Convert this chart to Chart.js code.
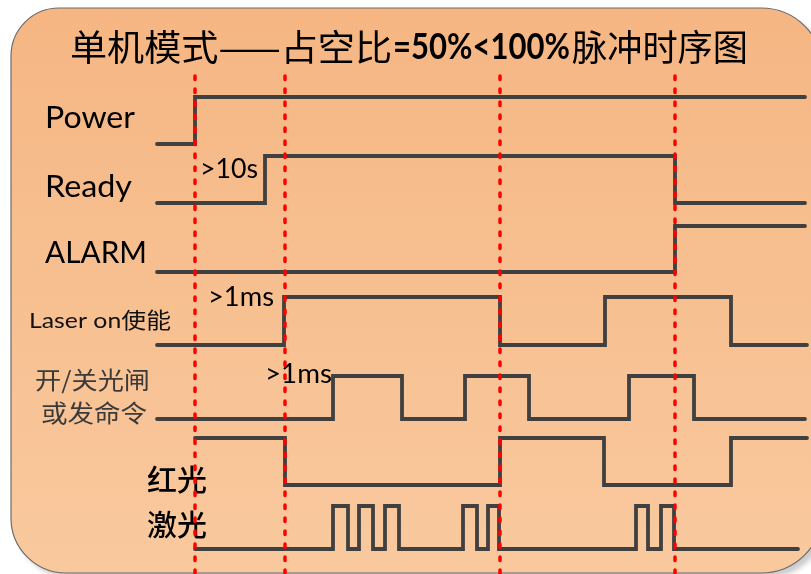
<!DOCTYPE html>
<html>
<head>
<meta charset="utf-8">
<script src="https://cdn.jsdelivr.net/npm/chart.js@4"></script>
<style>
  html, body { margin: 0; padding: 0; background: #fff; }
  canvas { display: block; }
</style>
</head>
<body>
<canvas id="timing" width="811" height="574"></canvas>
<script>
// reference instants (red dashed lines)
const markerTimes = [195, 285, 500, 675];

// signal edges: time at which the level starts, and the level (0 low / 1 high)
const powerTimes    = [157, 195, 805];
const powerLevels   = [0, 1, 1];
const readyTimes    = [157, 265, 675, 805];
const readyLevels   = [0, 1, 0, 0];
const alarmTimes    = [157, 675, 805];
const alarmLevels   = [0, 1, 1];
const laserOnTimes  = [157, 284, 500, 605, 731, 807];
const laserOnLevels = [0, 1, 0, 1, 0, 0];
const shutterTimes  = [157, 333, 402, 465, 529, 629, 694, 805];
const shutterLevels = [0, 1, 0, 1, 0, 1, 0, 0];
const redTimes      = [195, 285, 500, 604, 731, 807];
const redLevels     = [1, 0, 1, 0, 1, 1];
const laserTimes    = [195, 333, 348, 359, 373, 385, 399, 463, 477, 488, 499, 636, 648, 661, 674, 798];
const laserLevels   = [0, 1, 0, 1, 0, 1, 0, 1, 0, 1, 0, 1, 0, 1, 0, 0];

// lane layout (y of the low and high level on the y scale)
const LANES = {
  power:   { low: 144, high: 97 },
  ready:   { low: 203, high: 156 },
  alarm:   { low: 272, high: 226 },
  laserOn: { low: 345, high: 297 },
  shutter: { low: 419, high: 376 },
  red:     { low: 485, high: 438 },
  laser:   { low: 549, high: 506 },
};

const LINE_COLOR = "#404040";
const DASH_COLOR = "#ff0000";
const DASH_TOP   = 76;

function signal(times, levels, lane) {
  return {
    data: times.map((t, i) => ({ x: t, y: lane.low - levels[i] * (lane.low - lane.high) })),
    stepped: "before",
    borderColor: LINE_COLOR,
    borderWidth: 3.8,
    borderCapStyle: "round",
    borderJoinStyle: "miter",
    pointRadius: 0,
    fill: false,
  };
}

function marker(t) {
  return {
    data: [{ x: t, y: DASH_TOP }, { x: t, y: 574 }],
    borderColor: DASH_COLOR,
    borderWidth: 3.5,
    borderDash: [3.5, 9.5],
    borderCapStyle: "round",
    pointRadius: 0,
    fill: false,
  };
}

function fitText(ctx, txt, x0, x1, y, font, color, base = "alphabetic") {
  ctx.font = font;
  const w = ctx.measureText(txt).width;
  ctx.save();
  ctx.translate(x0, y);
  ctx.scale((x1 - x0) / w, 1);
  ctx.fillStyle = color;
  ctx.textBaseline = base;
  ctx.textAlign = "left";
  ctx.fillText(txt, 0, 0);
  ctx.restore();
}

const backdrop = {
  id: "backdrop",
  beforeDraw(chart) {
    const ctx = chart.ctx;
    ctx.save();
    ctx.fillStyle = "#fff";
    ctx.fillRect(0, 0, chart.width, chart.height);
    const x = 11, y = 8, w = 812, h = 565;
    ctx.beginPath();
    ctx.roundRect(x, y, w, h, [48, 62, 62, 55]);
    const g = ctx.createLinearGradient(0, y, 0, y + h);
    g.addColorStop(0, "rgb(245,182,131)");
    g.addColorStop(1, "rgb(249,201,158)");
    ctx.shadowColor = "rgba(0,0,0,0.2)";
    ctx.shadowBlur = 5;
    ctx.shadowOffsetX = 5;
    ctx.shadowOffsetY = 5;
    ctx.fillStyle = g;
    ctx.fill();
    ctx.shadowColor = "transparent";
    ctx.strokeStyle = "#6b6b6b";
    ctx.lineWidth = 1.2;
    ctx.stroke();
    ctx.restore();
  },
};

const labels = {
  id: "labels",
  beforeDatasetsDraw(chart) {
    const ctx = chart.ctx;
    const cjk = "'Noto Sans CJK SC'";
    // title
    fitText(ctx, "单机模式——占空比", 70, 392, 47, `36px ${cjk}`, "#000", "middle");
    fitText(ctx, "=50%<100%", 393, 570, 59, "bold 36px Lato", "#000");
    fitText(ctx, "脉冲时序图", 572, 748, 47, `36px ${cjk}`, "#000", "middle");
    // signal names
    fitText(ctx, "Power", 45, 135, 128, "31px Lato", "#000");
    fitText(ctx, "Ready", 45, 132, 197, "31px Lato", "#000");
    fitText(ctx, "ALARM", 45, 147, 263, "31px Lato", "#000");
    fitText(ctx, "Laser on使能", 29, 171, 328, `22px Lato, ${cjk}`, "#111");
    fitText(ctx, "开/关光闸", 35, 150, 380, `24px ${cjk}`, "#3a3a3a", "middle");
    fitText(ctx, "或发命令", 41, 147, 413, `24px ${cjk}`, "#3a3a3a", "middle");
    fitText(ctx, "红光", 147, 207, 480, `500 29px ${cjk}`, "#000", "middle");
    fitText(ctx, "激光", 147, 207, 525, `500 29px ${cjk}`, "#000", "middle");
    // delay notes
    fitText(ctx, ">10s", 200, 258, 178, "26px Lato", "#000");
    fitText(ctx, ">1ms", 208, 274, 306, "26px Lato", "#000");
    fitText(ctx, ">1ms", 265, 332, 383, "26px Lato", "#000");
  },
};

new Chart(document.getElementById("timing"), {
  type: "line",
  data: {
    datasets: [
      ...markerTimes.map(marker),
      signal(powerTimes, powerLevels, LANES.power),
      signal(readyTimes, readyLevels, LANES.ready),
      signal(alarmTimes, alarmLevels, LANES.alarm),
      signal(laserOnTimes, laserOnLevels, LANES.laserOn),
      signal(shutterTimes, shutterLevels, LANES.shutter),
      signal(redTimes, redLevels, LANES.red),
      signal(laserTimes, laserLevels, LANES.laser),
    ],
  },
  options: {
    responsive: false,
    animation: false,
    layout: { padding: 0 },
    plugins: { legend: { display: false }, tooltip: { enabled: false } },
    scales: {
      x: { type: "linear", min: 0, max: 811, display: false },
      y: { type: "linear", min: 0, max: 574, reverse: true, display: false },
    },
  },
  plugins: [backdrop, labels],
});
</script>
</body>
</html>
